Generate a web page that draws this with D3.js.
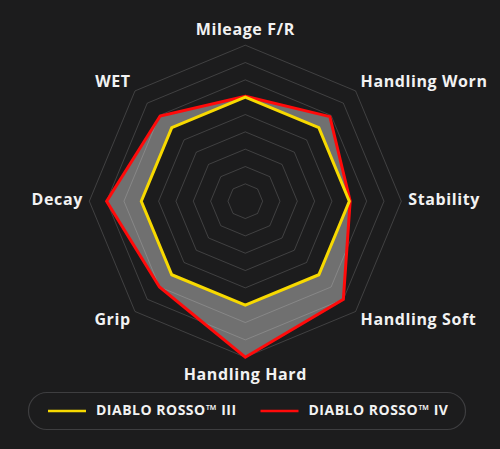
<!DOCTYPE html>
<html>
<head>
<meta charset="utf-8">
<script src="https://cdn.jsdelivr.net/npm/d3@7"></script>
<style>
  html, body { margin: 0; padding: 0; background: #1c1c1d; }
  svg { display: block; }
</style>
</head>
<body>
<svg id="chart"></svg>
<script>
// axes, clockwise from the top
const axes = ['Mileage F/R', 'Handling Worn', 'Stability', 'Handling Soft',
  'Handling Hard', 'Grip', 'Decay', 'WET'];
const rossoIII = [6, 6, 6, 6, 6, 6, 6, 6];
const rossoIV = [6.05, 6.9, 6.05, 8, 9, 7, 8, 6.95];
const levels = [1, 2, 3, 4, 5, 6, 7, 8, 9];
const seriesNames = ['DIABLO ROSSO\u2122 III', 'DIABLO ROSSO\u2122 IV'];

const width = 500, height = 449;
const cx = 245.3, cy = 201.2;
const bg = '#1c1c1d';

const svg = d3.select('#chart')
  .attr('width', width)
  .attr('height', height)
  .style('background', bg);

const r = d3.scaleLinear().domain([0, 9]).range([0, 156]);
const angle = d3.scalePoint().domain(axes).range([0, 2 * Math.PI * 7 / 8]);

const line = d3.lineRadial()
  .angle((d, i) => angle(axes[i]))
  .radius(d => r(d))
  .curve(d3.curveLinearClosed);

const g = svg.append('g').attr('transform', `translate(${cx},${cy})`);

// fills
g.append('path')
  .datum(rossoIV)
  .attr('d', line)
  .attr('fill', '#707070');

g.append('path')
  .datum(rossoIII)
  .attr('d', line)
  .attr('fill', bg);

// grid octagons on top of the fills
g.selectAll('.grid')
  .data(levels)
  .enter()
  .append('path')
  .attr('class', 'grid')
  .attr('d', l => line(axes.map(() => l)))
  .attr('fill', 'none')
  .attr('stroke', 'rgba(255,255,255,0.16)')
  .attr('stroke-width', 1);

// outlines
g.append('path')
  .datum(rossoIV)
  .attr('d', line)
  .attr('fill', 'none')
  .attr('stroke', '#ff0a0a')
  .attr('stroke-width', 3)
  .attr('stroke-linejoin', 'miter');

g.append('path')
  .datum(rossoIII)
  .attr('d', line)
  .attr('fill', 'none')
  .attr('stroke', '#f7d900')
  .attr('stroke-width', 3)
  .attr('stroke-linejoin', 'miter');

// axis labels
const labelR = r(9) + 7;
g.selectAll('.label')
  .data(axes)
  .enter()
  .append('text')
  .attr('class', 'label')
  .each(function (d) {
    const a = angle(d);
    const sx = Math.sin(a), sy = -Math.cos(a);
    let x = labelR * sx, y = labelR * sy;
    const vertical = Math.abs(sx) < 0.01;
    const anchor = vertical ? 'middle' : (sx > 0 ? 'start' : 'end');
    if (vertical) y += sy < 0 ? -3 : 15.5;
    else if (Math.abs(sy) > 0.01) y += sy < 0 ? -3.5 : 4.5;
    if (!vertical && sx < 0) x += 0.6;
    d3.select(this)
      .attr('x', x)
      .attr('y', y)
      .attr('text-anchor', anchor)
      .attr('dominant-baseline', vertical ? 'auto' : 'middle');
  })
  .text(d => d)
  .attr('fill', '#f2f2f2')
  .attr('font-family', 'Open Sans, sans-serif')
  .attr('font-weight', 700)
  .attr('font-size', '16px')
  .attr('letter-spacing', '0.6px');

// legend
const legend = svg.append('g');
legend.append('rect')
  .attr('x', 28.5).attr('y', 392.5)
  .attr('width', 437).attr('height', 37)
  .attr('rx', 18.5)
  .attr('fill', 'none')
  .attr('stroke', '#3e3e40')
  .attr('stroke-width', 1.2);

const legendX = [48, 260.5];
const legendColors = ['#f7d900', '#ff0a0a'];
const item = legend.selectAll('.item')
  .data(seriesNames)
  .enter()
  .append('g')
  .attr('class', 'item')
  .attr('transform', (d, i) => `translate(${legendX[i]},411)`);

item.append('line')
  .attr('x1', 0).attr('x2', 38)
  .attr('stroke', (d, i) => legendColors[i])
  .attr('stroke-width', 2.5);

item.append('text')
  .attr('x', 48)
  .attr('dominant-baseline', 'middle')
  .attr('fill', '#f2f2f2')
  .attr('font-family', 'Open Sans, sans-serif')
  .attr('font-weight', 700)
  .attr('font-size', '14px')
  .attr('letter-spacing', '0.5px')
  .text(d => d);
</script>
</body>
</html>
